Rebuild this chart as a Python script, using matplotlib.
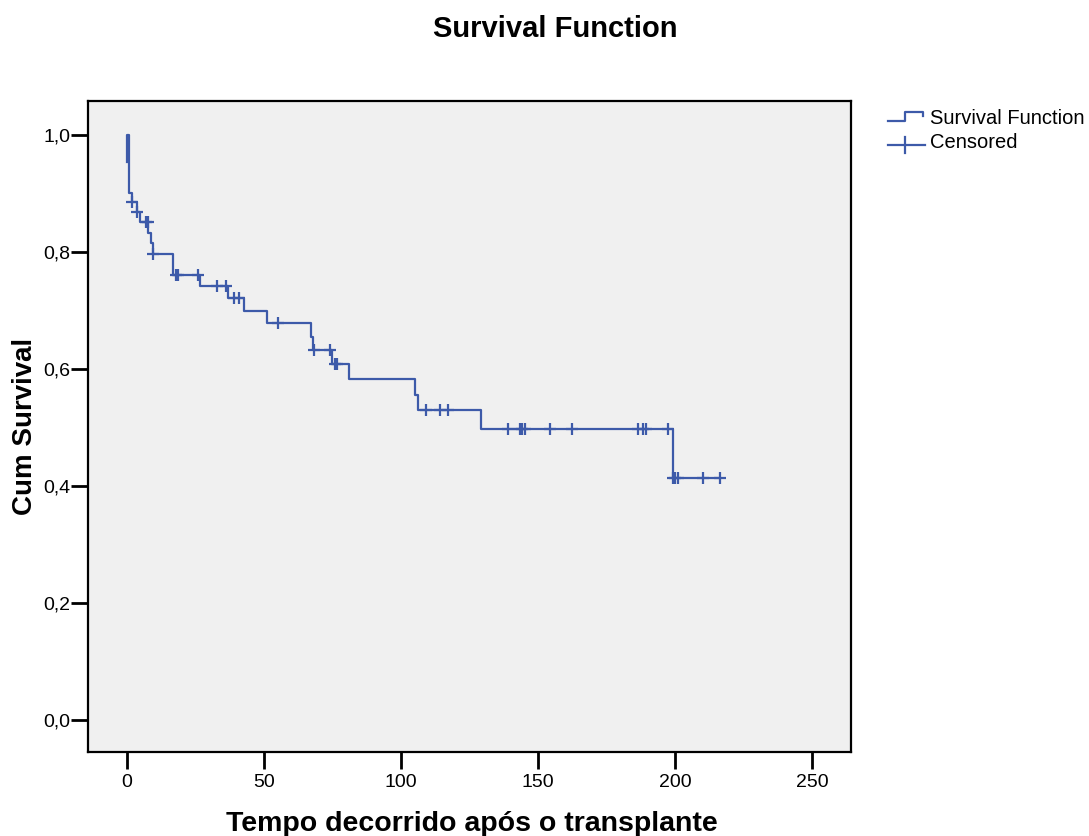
import numpy as np
import matplotlib
matplotlib.use("Agg")
import matplotlib.pyplot as plt
from matplotlib.lines import Line2D

plt.rcParams['font.family'] = ['Liberation Sans', 'DejaVu Sans']

# Kaplan-Meier: tempos dos degraus e sobrevivência acumulada depois de cada um
step_time = [0, 0, 0.8, 1.7, 3.8, 4.7, 7.8, 8.8, 9.6, 16.8, 26.8, 37.0, 42.8,
             51.1, 67.0, 67.9, 75.0, 81.0, 105.1, 106.1, 129.1, 199.4, 216.4]
step_surv = [0.953, 1.0, 0.901, 0.885, 0.868, 0.851, 0.833, 0.816, 0.797, 0.761,
             0.742, 0.721, 0.699, 0.678, 0.655, 0.632, 0.608, 0.582, 0.556,
             0.529, 0.497, 0.414, 0.414]

# tempos censurados
cens_time = [1.7, 3.8, 6.8, 7.6, 9.6, 17.8, 18.7, 25.8, 32.8, 36.0, 38.9, 40.9,
             55.0, 68.1, 74.1, 75.9, 76.5, 109.1, 114.1, 117.2, 139.2, 143.3,
             144.2, 145.1, 154.3, 162.3, 186.4, 188.3, 189.3, 197.3, 199.4,
             200.1, 201.1, 210.3, 216.4]

x_ticks = [0, 50, 100, 150, 200, 250]
y_ticks = [0.0, 0.2, 0.4, 0.6, 0.8, 1.0]

azul = '#3d5aa9'

# nivel da curva em cada tempo censurado
idx = np.searchsorted(step_time, cens_time, side='right') - 1
cens_surv = np.array(step_surv)[idx]

fig = plt.figure(figsize=(10.89, 8.36), dpi=100)
ax = fig.add_axes([0.0808, 0.1005, 0.7007, 0.7787])
ax.set_facecolor('#f0f0f0')

ax.step(step_time, step_surv, where='post', color=azul, lw=1.6)
ax.plot(cens_time, cens_surv, ls='none', marker='+', ms=9, mew=1.6, color=azul)

ax.set_xlim(-14.2, 264.2)
ax.set_ylim(-0.055, 1.058)
ax.set_xticks(x_ticks)
ax.set_xticklabels([str(v) for v in x_ticks])
ax.set_yticks(y_ticks)
ax.set_yticklabels([('%.1f' % v).replace('.', ',') for v in y_ticks])
ax.tick_params(direction='out', length=12, width=2, labelsize=14)
ax.tick_params(axis='y', pad=0.5)
ax.tick_params(axis='x', pad=4)
for s in ax.spines.values():
    s.set_linewidth(1.6)

ax.set_xlabel('Tempo decorrido após o transplante', fontsize=20.5, fontweight='bold')
ax.set_ylabel('Cum Survival', fontsize=20, fontweight='bold')
ax.xaxis.set_label_coords(0.503, -0.09)
ax.yaxis.set_label_coords(-0.065, 0.5)

fig.text(0.51, 0.965, 'Survival Function', ha='center', va='center',
         fontsize=21, fontweight='bold')

# legenda desenhada à mão (pixels da figura)
W, H = 1089, 836
def px(x, y):
    return x / W, 1 - y / H

xs, ys = zip(*[px(888, 120.7), px(905, 120.7), px(905, 111.7), px(923, 111.7), px(923, 115.7)])
fig.add_artist(Line2D(xs, ys, transform=fig.transFigure, color=azul, lw=1.6))
xs, ys = zip(*[px(888, 145), px(925, 145)])
fig.add_artist(Line2D(xs, ys, transform=fig.transFigure, color=azul, lw=1.6))
xs, ys = zip(*[px(905, 137), px(905, 153)])
fig.add_artist(Line2D(xs, ys, transform=fig.transFigure, color=azul, lw=1.6))
fig.text(*px(930, 118), 'Survival Function', fontsize=14.5, va='center')
fig.text(*px(930, 143), 'Censored', fontsize=14.5, va='center')

fig.savefig('out.png', dpi=100)
